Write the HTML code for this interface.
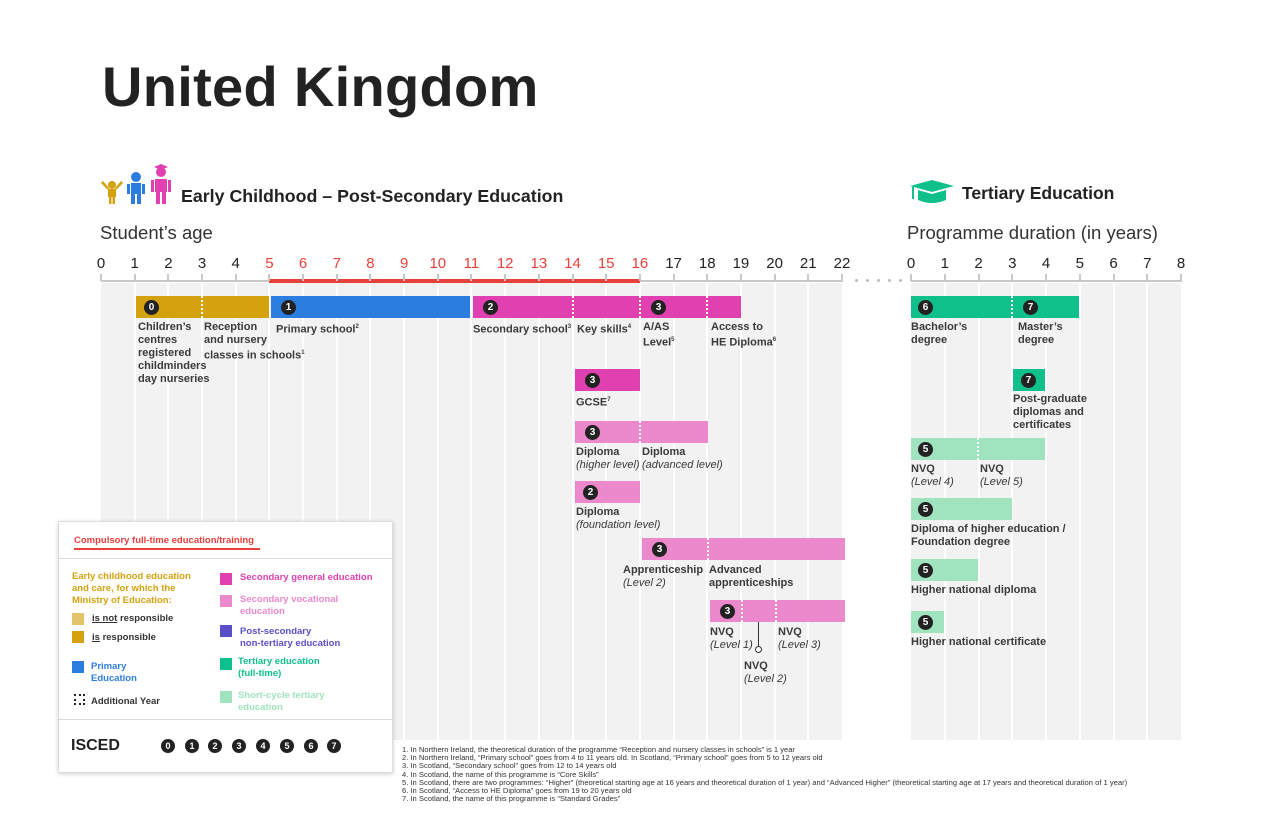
<!DOCTYPE html>
<html><head><meta charset="utf-8">
<style>
*{margin:0;padding:0;box-sizing:border-box}
body{width:1276px;height:826px;background:#fff;position:relative;overflow:hidden;font-family:"Liberation Sans",sans-serif;color:#333}
.a{position:absolute}
.tk{position:absolute;top:255px;font-size:15px;color:#222;transform:translateX(-50%)}
.bar{position:absolute;height:22px}
.c{position:absolute;width:15px;height:15px;border-radius:50%;background:#222;color:#fff;font-size:10px;font-weight:bold;text-align:center;line-height:15px;top:4px}
.dot{position:absolute;top:0;height:22px;border-left:2px dotted #fff}
.lb{position:absolute;font-size:11px;font-weight:bold;color:#3a3a3a;line-height:13px;white-space:nowrap}
.lb i{font-weight:normal}
sup{font-size:6px}
.lg{position:absolute;font-size:9.5px;font-weight:bold;line-height:12px}
.sq{position:absolute;width:12px;height:12px}
.ic{position:absolute;width:14px;height:14px;border-radius:50%;background:#222;color:#fff;font-size:9px;font-weight:bold;text-align:center;line-height:14px;top:739px}
</style></head><body>
<div class="a" style="left:102px;top:54px;font-size:56px;font-weight:bold;color:#222;letter-spacing:0.3px">United Kingdom</div>
<!-- icons -->
<svg class="a" style="left:100px;top:163px" width="75" height="42">
<g fill="#d4a20f"><circle cx="12" cy="22" r="4"/><rect x="8" y="26" width="8" height="8"/><rect x="9" y="33" width="2.5" height="8"/><rect x="12.5" y="33" width="2.5" height="8"/><path d="M8 27 L1 20 L3 18 L9 25Z M16 27 L23 20 L21 18 L15 25Z"/></g>
<g fill="#2b7de0"><circle cx="36" cy="14" r="5"/><rect x="31" y="20" width="10" height="11"/><rect x="31" y="30" width="4" height="11"/><rect x="37" y="30" width="4" height="11"/><rect x="27" y="21" width="3" height="10"/><rect x="42" y="21" width="3" height="10"/></g>
<g fill="#e040b0"><circle cx="61" cy="9" r="5"/><rect x="55" y="16" width="12" height="13"/><rect x="56" y="28" width="4" height="13"/><rect x="62" y="28" width="4" height="13"/><rect x="51" y="17" width="3" height="12"/><rect x="68" y="17" width="3" height="12"/><path d="M54 4 L61 1 L68 4 L61 7Z"/></g>
</svg>
<div class="a" style="left:181px;top:186px;font-size:17.8px;font-weight:bold;color:#222">Early Childhood – Post-Secondary Education</div>
<svg class="a" style="left:908px;top:180px" width="48" height="24"><path fill="#10c08a" d="M2 6 L24 0 L46 6 L24 12Z M10 10 L10 20 Q24 26 38 20 L38 10 L24 14Z"/><rect x="4" y="7" width="2" height="12" fill="#10c08a"/></svg>
<div class="a" style="left:962px;top:183px;font-size:17.5px;font-weight:bold;color:#222">Tertiary Education</div>
<div class="a" style="left:100px;top:222px;font-size:18.5px;color:#333">Student’s age</div>
<div class="a" style="left:907px;top:222px;font-size:18.5px;color:#333">Programme duration (in years)</div>
<div id="g"></div>
<!-- bars left -->
<div class="bar" style="left:136px;top:296px;width:133px;background:#d4a20f"><div class="c" style="left:8px">0</div><div class="dot" style="left:65px"></div></div>
<div class="bar" style="left:271px;top:296px;width:199px;background:#2b7de0"><div class="c" style="left:10px">1</div></div>
<div class="bar" style="left:473px;top:296px;width:268px;background:#e040b0"><div class="c" style="left:10px">2</div><div class="dot" style="left:99px"></div><div class="dot" style="left:166px"></div><div class="c" style="left:178px">3</div><div class="dot" style="left:233px"></div></div>
<div class="lb" style="left:138px;top:321px">Children’s<br>centres<br>registered<br>childminders<br>day nurseries</div>
<div class="lb" style="left:204px;top:321px">Reception<br>and nursery<br>classes in schools<sup>1</sup></div>
<div class="lb" style="left:276px;top:321px">Primary school<sup>2</sup></div>
<div class="lb" style="left:473px;top:321px">Secondary school<sup>3</sup></div>
<div class="lb" style="left:577px;top:321px">Key skills<sup>4</sup></div>
<div class="lb" style="left:643px;top:321px">A/AS<br>Level<sup>5</sup></div>
<div class="lb" style="left:711px;top:321px">Access to<br>HE Diploma<sup>6</sup></div>
<div class="bar" style="left:575px;top:369px;width:65px;background:#e040b0"><div class="c" style="left:10px">3</div></div>
<div class="lb" style="left:576px;top:394px">GCSE<sup>7</sup></div>
<div class="bar" style="left:575px;top:421px;width:133px;background:#ec88cc"><div class="c" style="left:10px">3</div><div class="dot" style="left:64px"></div></div>
<div class="lb" style="left:576px;top:446px">Diploma<br><i>(higher level)</i></div>
<div class="lb" style="left:642px;top:446px">Diploma<br><i>(advanced level)</i></div>
<div class="bar" style="left:575px;top:481px;width:65px;background:#ec88cc"><div class="c" style="left:8px">2</div></div>
<div class="lb" style="left:576px;top:506px">Diploma<br><i>(foundation level)</i></div>
<div class="bar" style="left:642px;top:538px;width:203px;background:#ec88cc"><div class="c" style="left:10px">3</div><div class="dot" style="left:65px"></div></div>
<div class="lb" style="left:623px;top:564px">Apprenticeship<br><i>(Level 2)</i></div>
<div class="lb" style="left:709px;top:564px">Advanced<br>apprenticeships</div>
<div class="bar" style="left:710px;top:600px;width:135px;background:#ec88cc"><div class="c" style="left:10px">3</div><div class="dot" style="left:31px"></div><div class="dot" style="left:65px"></div></div>
<div class="a" style="left:758px;top:622px;width:1px;height:25px;background:#333"></div>
<div class="a" style="left:755px;top:646px;width:7px;height:7px;border:1px solid #333;border-radius:50%;background:#fff"></div>
<div class="lb" style="left:710px;top:626px">NVQ<br><i>(Level 1)</i></div>
<div class="lb" style="left:778px;top:626px">NVQ<br><i>(Level 3)</i></div>
<div class="lb" style="left:744px;top:660px">NVQ<br><i>(Level 2)</i></div>
<!-- tertiary -->
<div class="bar" style="left:911px;top:296px;width:168px;background:#10c08a"><div class="c" style="left:7px">6</div><div class="dot" style="left:100px"></div><div class="c" style="left:112px">7</div></div>
<div class="lb" style="left:911px;top:321px">Bachelor’s<br>degree</div>
<div class="lb" style="left:1018px;top:321px">Master’s<br>degree</div>
<div class="bar" style="left:1013px;top:369px;width:32px;background:#10c08a"><div class="c" style="left:8px">7</div></div>
<div class="lb" style="left:1013px;top:393px">Post-graduate<br>diplomas and<br>certificates</div>
<div class="bar" style="left:911px;top:438px;width:134px;background:#a0e4bf"><div class="c" style="left:7px">5</div><div class="dot" style="left:66px"></div></div>
<div class="lb" style="left:911px;top:463px">NVQ<br><i>(Level 4)</i></div>
<div class="lb" style="left:980px;top:463px">NVQ<br><i>(Level 5)</i></div>
<div class="bar" style="left:911px;top:498px;width:101px;background:#a0e4bf"><div class="c" style="left:7px">5</div></div>
<div class="lb" style="left:911px;top:523px">Diploma of higher education /<br>Foundation degree</div>
<div class="bar" style="left:911px;top:559px;width:67px;background:#a0e4bf"><div class="c" style="left:7px">5</div></div>
<div class="lb" style="left:911px;top:584px">Higher national diploma</div>
<div class="bar" style="left:911px;top:611px;width:33px;background:#a0e4bf"><div class="c" style="left:7px">5</div></div>
<div class="lb" style="left:911px;top:636px">Higher national certificate</div>
<!-- legend -->
<div class="a" style="left:58px;top:521px;width:335px;height:252px;background:#fff;border:1px solid #ddd;box-shadow:0 1px 4px rgba(0,0,0,.2)"></div>
<div class="lg" style="left:74px;top:535px;color:#e8403a">Compulsory full-time education/training</div>
<div class="a" style="left:74px;top:548px;width:186px;height:2px;background:#e8403a"></div>
<div class="a" style="left:59px;top:558px;width:333px;height:1px;background:#ddd"></div>
<div class="lg" style="left:72px;top:571px;color:#d4a20f">Early childhood education<br>and care, for which the<br>Ministry of Education:</div>
<div class="sq" style="left:72px;top:613px;background:#e4c46a"></div><div class="lg" style="left:92px;top:613px;color:#333"><u>is not</u> responsible</div>
<div class="sq" style="left:72px;top:631px;background:#d4a20f"></div><div class="lg" style="left:92px;top:632px;color:#333"><u>is</u> responsible</div>
<div class="sq" style="left:72px;top:661px;background:#2b7de0"></div><div class="lg" style="left:91px;top:661px;color:#2b7de0">Primary<br>Education</div>
<div class="sq" style="left:74px;top:694px;border:2px dotted #222;width:11px;height:11px"></div><div class="lg" style="left:91px;top:696px;color:#333">Additional Year</div>
<div class="sq" style="left:220px;top:573px;background:#e040b0"></div><div class="lg" style="left:240px;top:572px;color:#e040b0">Secondary general education</div>
<div class="sq" style="left:220px;top:595px;background:#ec88cc"></div><div class="lg" style="left:240px;top:594px;color:#ec88cc">Secondary vocational<br>education</div>
<div class="sq" style="left:220px;top:625px;background:#5b4fc8"></div><div class="lg" style="left:240px;top:626px;color:#5b4fc8">Post-secondary<br>non-tertiary education</div>
<div class="sq" style="left:220px;top:658px;background:#10c08a"></div><div class="lg" style="left:238px;top:656px;color:#10c08a">Tertiary education<br>(full-time)</div>
<div class="sq" style="left:220px;top:691px;background:#a0e4bf"></div><div class="lg" style="left:238px;top:690px;color:#a0e4bf">Short-cycle tertiary<br>education</div>
<div class="a" style="left:59px;top:719px;width:333px;height:1px;background:#ddd"></div>
<div class="a" style="left:71px;top:737px;font-size:16px;font-weight:bold;color:#222">ISCED</div>
<div class="ic" style="left:161px">0</div><div class="ic" style="left:185px">1</div><div class="ic" style="left:208px">2</div><div class="ic" style="left:232px">3</div><div class="ic" style="left:256px">4</div><div class="ic" style="left:280px">5</div><div class="ic" style="left:304px">6</div><div class="ic" style="left:327px">7</div>
<div class="a" style="left:402px;top:746px;font-size:7.6px;line-height:8.2px;color:#333;white-space:nowrap">
1. In Northern Ireland, the theoretical duration of the programme “Reception and nursery classes in schools” is 1 year<br>
2. In Northern Ireland, “Primary school” goes from 4 to 11 years old. In Scotland, “Primary school” goes from 5 to 12 years old<br>
3. In Scotland, “Secondary school” goes from 12 to 14 years old<br>
4. In Scotland, the name of this programme is “Core Skills”<br>
5. In Scotland, there are two programmes: “Higher” (theoretical starting age at 16 years and theoretical duration of 1 year) and “Advanced Higher” (theoretical starting age at 17 years and theoretical duration of 1 year)<br>
6. In Scotland, “Access to HE Diploma” goes from 19 to 20 years old<br>
7. In Scotland, the name of this programme is “Standard Grades”</div>
<script>
var g=document.getElementById('g'),h='';
function X(a){return 101+a*33.68}
function T(t){return 911+t*33.75}
h+='<div class="a" style="left:101px;top:283px;width:741px;height:457px;background:#f2f2f2"></div>';
h+='<div class="a" style="left:911px;top:283px;width:270px;height:457px;background:#f2f2f2"></div>';
h+='<div class="a" style="left:101px;top:280px;width:742px;height:2px;background:#c8c8c8"></div>';
h+='<div class="a" style="left:911px;top:280px;width:271px;height:2px;background:#c8c8c8"></div>';
h+='<div class="a" style="left:'+X(5)+'px;top:279px;width:'+(X(16)-X(5))+'px;height:4px;background:#e8403a"></div>';
for(var a=0;a<=22;a++){var x=X(a);
 if(a>0&&a<22)h+='<div class="a" style="left:'+(x-1)+'px;top:283px;width:2px;height:457px;background:#fff"></div>';
 h+='<div class="a" style="left:'+(x-1)+'px;top:274px;width:2px;height:7px;background:#c8c8c8"></div>';
 h+='<div class="tk" style="left:'+x+'px;color:'+(a>=5&&a<=16?'#e8403a':'#222')+'">'+a+'</div>';}
for(var t=0;t<=8;t++){var x=T(t);
 if(t>0&&t<8)h+='<div class="a" style="left:'+(x-1)+'px;top:283px;width:2px;height:457px;background:#fff"></div>';
 h+='<div class="a" style="left:'+(x-1)+'px;top:274px;width:2px;height:7px;background:#c8c8c8"></div>';
 h+='<div class="tk" style="left:'+x+'px">'+t+'</div>';}
for(var i=0;i<5;i++)h+='<div class="a" style="left:'+(855+i*11)+'px;top:279px;width:3px;height:3px;border-radius:50%;background:#bbb"></div>';
g.innerHTML=h;
</script>
</body></html>
